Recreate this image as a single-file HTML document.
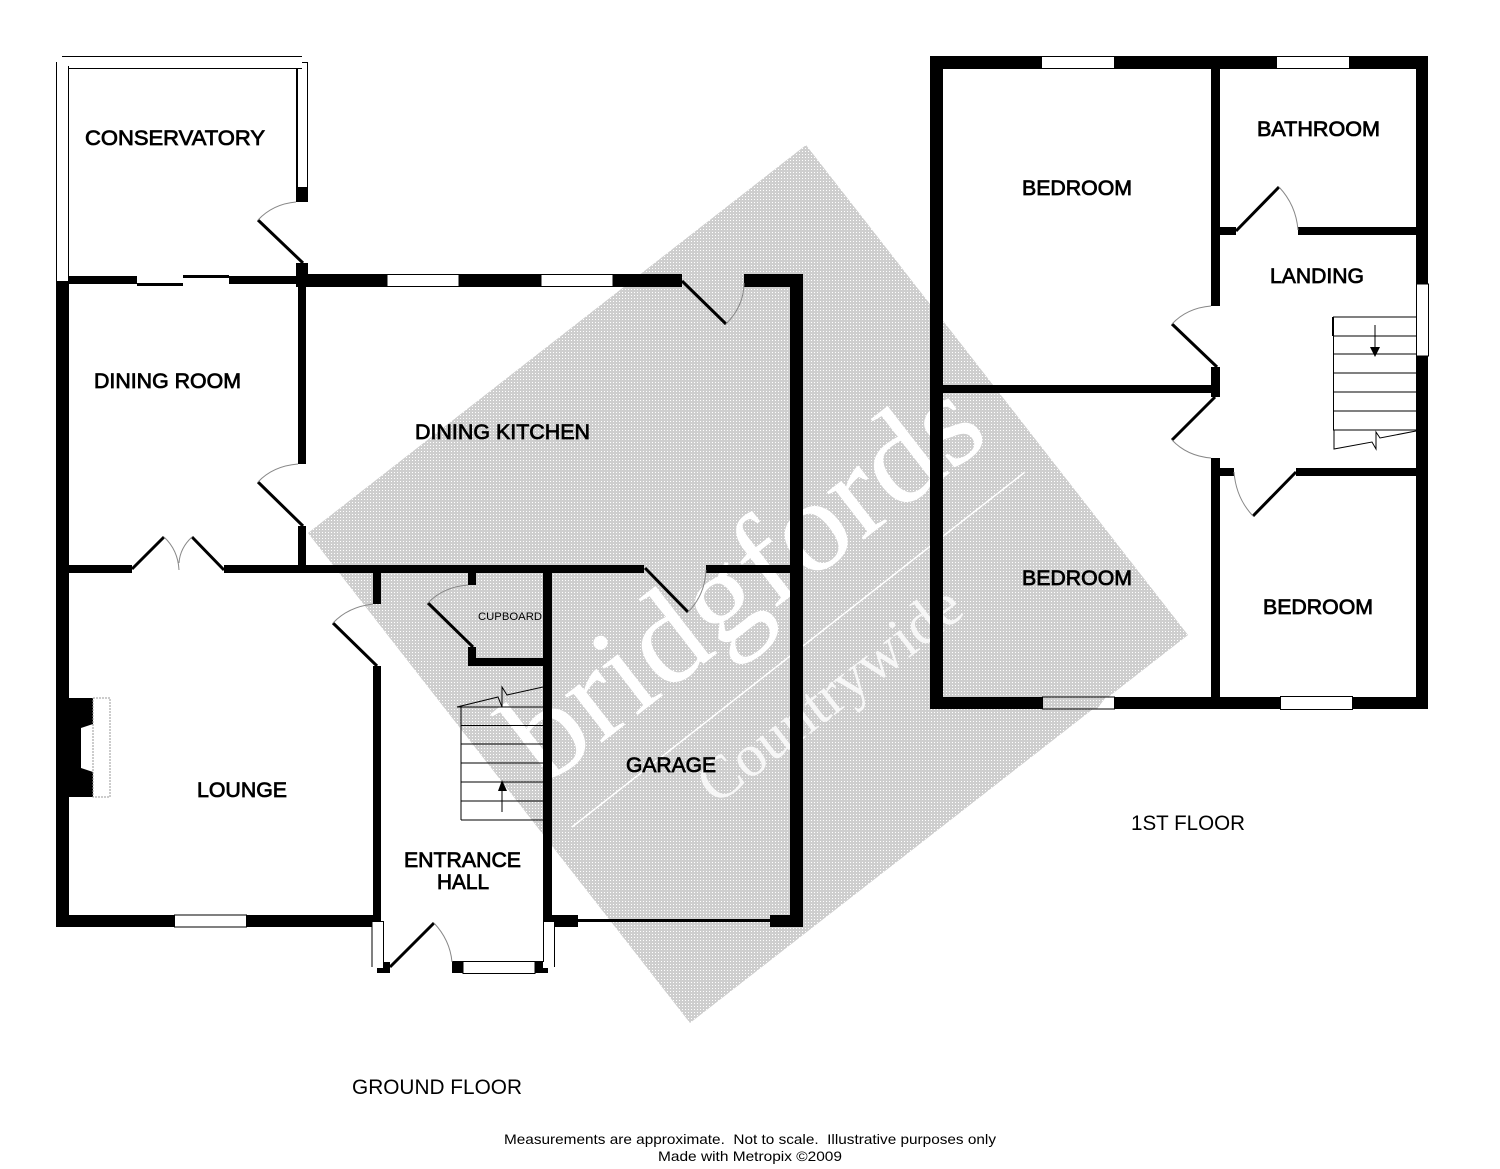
<!DOCTYPE html>
<html><head><meta charset="utf-8"><title>Floor plan</title>
<style>
html,body{margin:0;padding:0;background:#fff}
svg{display:block}
.l{font-family:"Liberation Sans",Arial,sans-serif;font-size:21px;fill:#000;stroke:#000;stroke-width:.75}
.p{font-family:"Liberation Sans",Arial,sans-serif;fill:#000}
.door{stroke:#000;stroke-width:3;fill:none}
.arc{stroke:#888;stroke-width:1;fill:none}
.st{stroke:#000;stroke-width:1;fill:none}
.win{fill:#fff;stroke:#000;stroke-width:1}
</style></head><body>
<svg xmlns="http://www.w3.org/2000/svg" width="1500" height="1169" viewBox="0 0 1500 1169">
<defs>
<pattern id="d" width="3" height="3" patternUnits="userSpaceOnUse">
<rect width="3" height="3" fill="#cecece"/><rect x="1" y="1" width="1" height="1" fill="#fff"/>
</pattern>
</defs>
<rect width="1500" height="1169" fill="#fff"/>

<!-- watermark -->
<polygon points="806,145 308,533 690,1023 1188,635" fill="url(#d)"/>
<text transform="translate(546,786) rotate(-37.8)" font-family="'Liberation Serif',serif" font-size="131" fill="#fff" textLength="565" lengthAdjust="spacingAndGlyphs">bridgfords</text>
<line x1="572" y1="827" x2="1025" y2="472" stroke="#fff" stroke-width="1.5"/>
<text transform="translate(716,806) rotate(-37.5)" font-family="'Liberation Serif',serif" font-size="60" fill="#fff" fill-opacity=".8" textLength="316" lengthAdjust="spacingAndGlyphs">Countrywide</text>

<!-- GROUND FLOOR walls -->
<g fill="#000">
<rect x="56" y="281" width="13" height="646"/>
<rect x="69" y="276" width="68" height="8"/>
<rect x="137" y="283" width="46" height="3"/>
<rect x="183" y="275" width="46" height="3"/>
<rect x="229" y="276" width="67" height="8"/>
<rect x="296" y="263" width="12" height="24"/>
<rect x="296" y="187" width="12" height="15"/>
<rect x="298" y="285" width="8" height="179"/>
<rect x="298" y="526" width="8" height="47"/>
<rect x="308" y="274" width="79" height="13"/>
<rect x="459" y="274" width="82" height="13"/>
<rect x="613" y="274" width="69" height="13"/>
<rect x="744" y="274" width="59" height="13"/>
<rect x="790" y="274" width="13" height="653"/>
<rect x="69" y="565" width="63" height="8"/>
<rect x="224" y="565" width="420" height="8"/>
<rect x="706" y="565" width="84" height="8"/>
<rect x="373" y="573" width="8" height="31"/>
<rect x="373" y="666" width="8" height="254"/>
<rect x="468" y="573" width="8" height="12"/>
<rect x="468" y="647" width="8" height="19"/>
<rect x="468" y="658" width="76" height="8"/>
<rect x="543" y="565" width="9" height="355"/>
<rect x="56" y="915" width="118" height="12"/>
<rect x="247" y="915" width="134" height="12"/>
<rect x="543" y="915" width="35" height="12"/>
<rect x="578" y="919" width="192" height="3"/>
<rect x="770" y="915" width="33" height="12"/>
<!-- fireplace -->
<polygon points="69,698 93,698 93,724 81,728 81,768 93,772 93,797 69,797"/>
</g>
<path d="M93,698 H110 V797 H93 V698" fill="none" stroke="#999" stroke-width="1" stroke-dasharray="2 1"/>

<!-- conservatory glazing -->
<line x1="56.5" y1="62" x2="56.5" y2="281" class="st"/>
<line x1="68.5" y1="66" x2="68.5" y2="281" class="st"/>
<line x1="62" y1="56.5" x2="302" y2="56.5" class="st"/>
<line x1="69" y1="68.5" x2="302" y2="68.5" class="st"/>
<line x1="302" y1="62.5" x2="308" y2="62.5" class="st"/>
<line x1="307.5" y1="62" x2="307.5" y2="187" class="st"/>
<rect x="296" y="68" width="2" height="119" fill="#000"/>

<!-- ground windows -->
<rect x="387" y="274.5" width="72" height="12" class="win"/>
<rect x="541" y="274.5" width="72" height="12" class="win"/>
<rect x="174.5" y="915" width="72" height="12" class="win"/>

<!-- entrance bay -->
<rect x="372" y="921" width="12" height="46" fill="#fff"/>
<rect x="543" y="921" width="12" height="46" fill="#fff"/>
<line x1="372" y1="921" x2="372" y2="967" class="st"/>
<line x1="383.5" y1="921" x2="383.5" y2="962" class="st"/>
<line x1="372" y1="921.5" x2="384" y2="921.5" class="st"/>
<line x1="543.5" y1="921" x2="543.5" y2="962" class="st"/>
<line x1="554.5" y1="921" x2="554.5" y2="967" class="st"/>
<line x1="543" y1="921.5" x2="555" y2="921.5" class="st"/>
<g fill="#000">
<rect x="383" y="962" width="7" height="11"/>
<rect x="377" y="968" width="13" height="5"/>
<rect x="452" y="961" width="11" height="12"/>
<rect x="535" y="961" width="8" height="12"/>
<rect x="543" y="968" width="5" height="5"/>
</g>
<rect x="463" y="961.5" width="72" height="12" class="win"/>

<!-- ground doors -->
<path d="M303,263 L258,220" class="door"/><path d="M258,220 Q273,204 296,202" class="arc"/>
<path d="M682,281 L726,324" class="door"/><path d="M726,324 Q744,306 744,283" class="arc"/>
<path d="M303,526 L258,482" class="door"/><path d="M258,482 Q273,466 298,464" class="arc"/>
<path d="M132,569 L164,537" class="door"/><path d="M164,537 Q178,550 179,570" class="arc"/>
<path d="M192,537 L224,570" class="door"/><path d="M192,537 Q180,548 179,563" class="arc"/>
<path d="M645,568 L688,612" class="door"/><path d="M688,612 Q705,595 706,570" class="arc"/>
<path d="M377,666 L333,623" class="door"/><path d="M333,623 Q348,607 373,604" class="arc"/>
<path d="M473,647 L428,603" class="door"/><path d="M428,603 Q443,587 468,585" class="arc"/>
<path d="M390,967 L434,923" class="door"/><path d="M434,923 Q450,940 452,962" class="arc"/>

<!-- ground stairs -->
<g class="st">
<path d="M461,707 V820"/>
<path d="M457,707 H544 M461,725.5 H544 M461,744 H544 M461,763 H544 M461,782 H544 M461,801 H544 M461,820 H544"/>
<path d="M457,707 L498,697 L502,707 L502,687 L507,695 L543,687"/>
<path d="M502,812 V790"/>
</g>
<polygon points="502,780 507,791 498,791" fill="#000"/>

<!-- FIRST FLOOR walls -->
<g fill="#000">
<rect x="930" y="56" width="498" height="13"/>
<rect x="930" y="56" width="13" height="653"/>
<rect x="1416" y="56" width="12" height="653"/>
<rect x="930" y="697" width="498" height="12"/>
<rect x="1211" y="56" width="9" height="250"/>
<rect x="1211" y="367" width="9" height="30"/>
<rect x="1211" y="458" width="9" height="251"/>
<rect x="943" y="385" width="268" height="8"/>
<rect x="1220" y="227" width="16" height="8"/>
<rect x="1298" y="227" width="118" height="8"/>
<rect x="1220" y="468" width="14" height="8"/>
<rect x="1296" y="468" width="120" height="8"/>
</g>
<rect x="1042" y="57" width="72" height="11" fill="#fff"/>
<rect x="1277" y="57" width="72" height="11" fill="#fff"/>
<rect x="1042.5" y="697" width="72" height="12" fill="#fff"/>
<polygon points="1042,697 1106,697 1097,709 1042,709" fill="url(#d)"/>
<rect x="1042.5" y="697" width="72" height="12" fill="none" stroke="#000" stroke-width="1"/>
<rect x="1280.5" y="696.5" width="72" height="13" class="win"/>
<rect x="1416.5" y="284" width="12" height="72" class="win"/>

<!-- first floor doors -->
<path d="M1236,231 L1279,187" class="door"/><path d="M1279,187 Q1296,205 1298,230" class="arc"/>
<path d="M1217,367 L1172,324" class="door"/><path d="M1172,324 Q1187,308 1211,306" class="arc"/>
<path d="M1215,397 L1172,440" class="door"/><path d="M1172,440 Q1187,456 1211,458" class="arc"/>
<path d="M1296,472 L1253,516" class="door"/><path d="M1253,516 Q1236,498 1234,472" class="arc"/>

<!-- first floor stairs -->
<g class="st">
<path d="M1333.5,317 V430"/>
<path d="M1333,317 H1416 M1333,336 H1416 M1333,354 H1416 M1333,373 H1416 M1333,392 H1416 M1333,411 H1416 M1333,430 H1416"/>
<path d="M1334,430 V449 L1372,442 L1376,449 L1376,432 L1380,438 L1416,431"/>
<path d="M1375,325 V348"/>
</g>
<rect x="1332" y="317" width="2" height="19" fill="#000"/>
<polygon points="1375,357 1370,347 1380,347" fill="#000"/>

<!-- labels -->
<text class="l" x="85" y="145" textLength="180" lengthAdjust="spacingAndGlyphs">CONSERVATORY</text>
<text class="l" x="94" y="388" textLength="147" lengthAdjust="spacingAndGlyphs">DINING ROOM</text>
<text class="l" x="415" y="439" textLength="175" lengthAdjust="spacingAndGlyphs">DINING KITCHEN</text>
<text class="l" x="197" y="797" textLength="90" lengthAdjust="spacingAndGlyphs">LOUNGE</text>
<text class="l" x="626" y="772" textLength="90" lengthAdjust="spacingAndGlyphs">GARAGE</text>
<text class="l" x="404" y="867" textLength="117" lengthAdjust="spacingAndGlyphs">ENTRANCE</text>
<text class="l" x="437" y="889" textLength="52" lengthAdjust="spacingAndGlyphs">HALL</text>
<text class="l" x="1022" y="195" textLength="110" lengthAdjust="spacingAndGlyphs">BEDROOM</text>
<text class="l" x="1257" y="136" textLength="123" lengthAdjust="spacingAndGlyphs">BATHROOM</text>
<text class="l" x="1270" y="283" textLength="94" lengthAdjust="spacingAndGlyphs">LANDING</text>
<text class="l" x="1022" y="585" textLength="110" lengthAdjust="spacingAndGlyphs">BEDROOM</text>
<text class="l" x="1263" y="614" textLength="110" lengthAdjust="spacingAndGlyphs">BEDROOM</text>
<text class="p" x="478" y="620" font-size="11" textLength="64" lengthAdjust="spacingAndGlyphs">CUPBOARD</text>
<text class="p" x="352" y="1094" font-size="21" textLength="170" lengthAdjust="spacingAndGlyphs">GROUND FLOOR</text>
<text class="p" x="1131" y="830" font-size="21" textLength="114" lengthAdjust="spacingAndGlyphs">1ST FLOOR</text>
<text class="p" x="504" y="1144" font-size="14" textLength="492" lengthAdjust="spacingAndGlyphs" xml:space="preserve">Measurements are approximate.  Not to scale.  Illustrative purposes only</text>
<text class="p" x="658" y="1161" font-size="14" textLength="184" lengthAdjust="spacingAndGlyphs">Made with Metropix ©2009</text>
</svg>
</body></html>
